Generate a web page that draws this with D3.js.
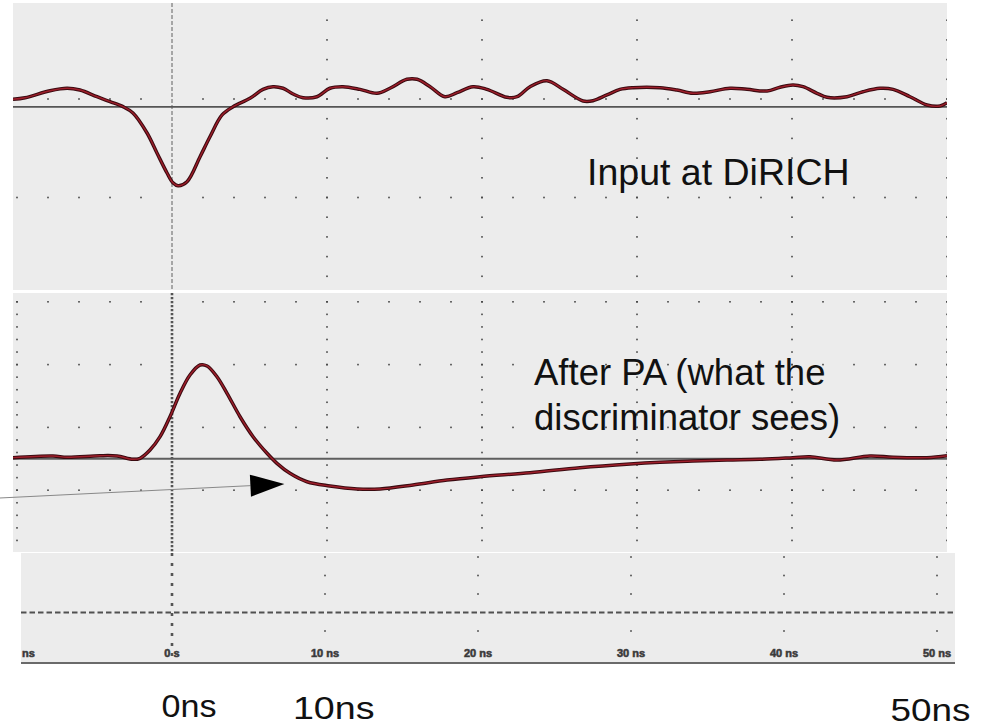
<!DOCTYPE html>
<html><head><meta charset="utf-8">
<script src="https://cdn.jsdelivr.net/npm/d3@7"></script>
<style>html,body{margin:0;padding:0;background:#fff;} svg{display:block;}</style>
</head><body>
<svg id="chart" width="984" height="727"></svg>
<script>
// ---- data (time in ns, amplitude in scope divisions) ----
const inputT = [-10.26,-9.48,-7.87,-6.77,-5.94,-4.84,-4.0,-3.16,-2.52,-1.61,-0.97,-0.32,0.06,0.39,0.97,1.81,2.45,3.23,3.94,5.03,5.87,6.52,7.16,7.81,8.45,9.35,10.19,11.03,12.13,13.23,14.06,15.16,15.81,16.65,17.61,18.39,19.42,20.32,21.61,22.26,23.10,24.19,25.23,26.52,27.16,28.06,28.90,29.74,31.48,32.58,33.61,34.71,36.0,37.10,38.39,39.23,40.06,40.71,41.61,42.26,43.55,44.58,45.68,46.52,47.61,48.71,49.55,50.0];
const inputV = [-0.003,0.013,0.084,0.109,0.091,0.023,-0.027,-0.078,-0.142,-0.345,-0.548,-0.751,-0.850,-0.880,-0.840,-0.586,-0.383,-0.162,-0.078,0.007,0.098,0.125,0.109,0.051,0.013,0.023,0.109,0.125,0.098,0.058,0.109,0.200,0.200,0.125,0.023,0.064,0.125,0.098,0.017,0.023,0.125,0.186,0.098,-0.020,-0.017,0.041,0.098,0.115,0.115,0.091,0.058,0.074,0.109,0.098,0.081,0.119,0.142,0.125,0.058,0.017,0.023,0.074,0.109,0.098,0.023,-0.061,-0.071,-0.038];
const paT = [-10.26,-7.68,-6.77,-4.65,-3.55,-2.52,-2.06,-1.42,-0.77,-0.13,0.52,1.16,1.81,2.26,2.90,3.55,4.39,5.23,6.13,6.77,7.61,8.71,10.19,11.94,13.42,15.55,17.74,19.87,23.10,26.32,29.55,31.48,33.61,35.81,37.94,40.06,41.16,42.90,45.03,46.52,48.71,50.0];
const paV = [0.518,0.545,0.524,0.549,0.545,0.492,0.508,0.640,0.852,1.170,1.543,1.834,1.994,1.978,1.807,1.543,1.170,0.852,0.588,0.428,0.269,0.135,0.067,0.019,0.019,0.083,0.162,0.215,0.279,0.358,0.417,0.444,0.465,0.481,0.492,0.518,0.533,0.481,0.545,0.524,0.518,0.549];
const inputBaseline = -0.08;
const paBaseline = 0.5;
const timeTicks = [-10,0,10,20,30,40,50];
const timeTickLabels = ["-10 ns","0 s","10 ns","20 ns","30 ns","40 ns","50 ns"];
const topColumns = [10,20,30,40,50];
const midColumns = [-10,10,20,30,40,50];
const topRows = [1,0,-1,-2];
const midRows = [-1,0,1,2,3];
const botRows = [0,1,2,4];
const triggerLevel = 3;
const panelTitles = ["Input at DiRICH","After PA (what the","discriminator sees)"];
const timeLabels = ["0ns","10ns","50ns"];
const arrowFrom = [-11.1,-0.124];
const arrowTo = [7.25,0.099];

// ---- layout ----
const svg = d3.select("#chart");
const bg = "#ececec";
const font = "'Liberation Sans', Arial, Helvetica, sans-serif";
const pTop = {x0:13, x1:947, y0:3, y1:290};
const pMid = {x0:13, x1:947, y0:293, y1:552};
const pBot = {x0:21, x1:955, y0:553, y1:663};

const xUp = d3.scaleLinear().domain([0,50]).range([172,947]);
const xBot = d3.scaleLinear().domain([0,50]).range([172,937]);
const yTop = d3.scaleLinear().domain([1,-2]).range([0.5,296]);
const yMid = d3.scaleLinear().domain([-1,3]).range([553,301.8]);
const yBot = d3.scaleLinear().domain([0,4]).range([557,631]);

const defs = svg.append("defs");
function clip(id,p){ defs.append("clipPath").attr("id",id).append("rect").attr("x",p.x0).attr("y",p.y0).attr("width",p.x1-p.x0).attr("height",p.y1-p.y0); }
clip("cTop",pTop); clip("cMid",pMid); clip("cBot",pBot);

[pTop,pMid,pBot].forEach(p=>{
  svg.append("rect").attr("x",p.x0).attr("y",p.y0).attr("width",p.x1-p.x0).attr("height",p.y1-p.y0).attr("fill",bg);
});

function dot(g,x,y){ g.append("rect").attr("x",x-0.8).attr("y",y-0.8).attr("width",1.6).attr("height",1.6).attr("fill","#454545"); }

function gridDots(clipId, xs, ys, cols, rows, minorStep){
  const g = svg.append("g").attr("clip-path",`url(#${clipId})`);
  const dom = ys.domain(); const lo=Math.min(...dom), hi=Math.max(...dom);
  cols.forEach(t=>{
    for(let v=Math.ceil(lo/minorStep)*minorStep; v<=hi+1e-9; v+=minorStep) dot(g,xs(t),ys(v));
  });
  rows.forEach(v=>{
    for(let t=-10;t<=50;t+=2){ if(t===0) continue; dot(g,xs(t),ys(v)); }
  });
}
gridDots("cTop", xUp, yTop, topColumns, topRows, 0.2);
gridDots("cMid", xUp, yMid, midColumns, midRows, 0.2);

// zero-time markers
svg.append("line").attr("x1",xUp(0)).attr("x2",xUp(0)).attr("y1",pTop.y0).attr("y2",pTop.y1)
  .attr("stroke","#777").attr("stroke-width",1.2).attr("stroke-dasharray","4,2");
svg.append("line").attr("x1",xUp(0)).attr("x2",xUp(0)).attr("y1",pMid.y0).attr("y2",pMid.y1)
  .attr("stroke","#555").attr("stroke-width",2.6).attr("stroke-dasharray","2.2,1.8");
svg.append("line").attr("x1",xBot(0)).attr("x2",xBot(0)).attr("y1",pBot.y0).attr("y2",pBot.y1-3)
  .attr("stroke","#555").attr("stroke-width",2.6).attr("stroke-dasharray","3,7");

// baselines
svg.append("line").attr("x1",pTop.x0).attr("x2",pTop.x1).attr("y1",yTop(inputBaseline)).attr("y2",yTop(inputBaseline))
  .attr("stroke","#555").attr("stroke-width",1.6);
svg.append("line").attr("x1",pMid.x0).attr("x2",pMid.x1).attr("y1",yMid(paBaseline)).attr("y2",yMid(paBaseline))
  .attr("stroke","#5e5e5e").attr("stroke-width",2);

// waveforms
function wave(clipId, T, V, xs, ys){
  const data = d3.zip(T,V);
  const line = d3.line().x(d=>xs(d[0])).y(d=>ys(d[1])).curve(d3.curveCatmullRom.alpha(0.5));
  const g = svg.append("g").attr("clip-path",`url(#${clipId})`);
  g.append("path").attr("d",line(data)).attr("fill","none").attr("stroke","#3a0a10").attr("stroke-width",3.5).attr("stroke-linejoin","round");
  g.append("path").attr("d",line(data)).attr("fill","none").attr("stroke","#9e1e2a").attr("stroke-width",1.4).attr("stroke-linejoin","round");
}
wave("cTop", inputT, inputV, xUp, yTop);
wave("cMid", paT, paV, xUp, yMid);

// arrow annotation
{
  const x0 = xUp(arrowFrom[0]), y0 = yMid(arrowFrom[1]);
  const x1 = xUp(arrowTo[0]), y1 = yMid(arrowTo[1]);
  const dx = x1-x0, dy = y1-y0, L = Math.hypot(dx,dy), ux = dx/L, uy = dy/L;
  const hl = 34, hw = 11;
  const bx = x1-ux*hl, by = y1-uy*hl;
  svg.append("line").attr("x1",x0).attr("y1",y0).attr("x2",bx).attr("y2",by).attr("stroke","#888").attr("stroke-width",1);
  svg.append("path").attr("d",`M${x1},${y1}L${bx-uy*hw},${by+ux*hw}L${bx+uy*hw},${by-ux*hw}Z`).attr("fill","#000");
}

// bottom (time axis) panel
{
  const g = svg.append("g").attr("clip-path","url(#cBot)");
  timeTicks.forEach(t=>{ if(t!==0) botRows.forEach(v=>dot(g,xBot(t),yBot(v))); });
  g.append("line").attr("x1",pBot.x0).attr("x2",pBot.x1).attr("y1",yBot(triggerLevel)).attr("y2",yBot(triggerLevel))
    .attr("stroke","#505050").attr("stroke-width",2).attr("stroke-dasharray","5.5,3");
  g.selectAll("text.tl").data(timeTicks).join("text").attr("class","tl")
    .attr("x",d=>xBot(d)).attr("y",657).attr("text-anchor","middle")
    .attr("font-family",font).attr("font-weight","bold").attr("font-size",11).attr("fill","#333")
    .attr("stroke","#444").attr("stroke-width",0.6)
    .text((d,i)=>timeTickLabels[i]);
  svg.append("line").attr("x1",pBot.x0).attr("x2",pBot.x1).attr("y1",663).attr("y2",663).attr("stroke","#6a6a6a").attr("stroke-width",2);
}

// titles
svg.append("text").attr("x",587).attr("y",185).attr("font-family",font).attr("font-size",37.5).attr("fill","#111").text(panelTitles[0]);
svg.append("text").attr("x",534).attr("y",385).attr("font-family",font).attr("font-size",36.5).attr("fill","#111").text(panelTitles[1]);
svg.append("text").attr("x",534).attr("y",430).attr("font-family",font).attr("font-size",36.5).attr("fill","#111").text(panelTitles[2]);

// time labels under the axis
const tl = [{x0:161.6,y:717,len:55},{x0:292.9,y:719,len:81.6},{x0:890.5,y:721,len:80}];
tl.forEach((d,i)=>{
  svg.append("text").attr("x",d.x0).attr("y",d.y).attr("font-family",font).attr("font-size",31).attr("fill","#111")
    .attr("textLength",d.len).attr("lengthAdjust","spacingAndGlyphs").text(timeLabels[i]);
});
</script>
</body></html>
